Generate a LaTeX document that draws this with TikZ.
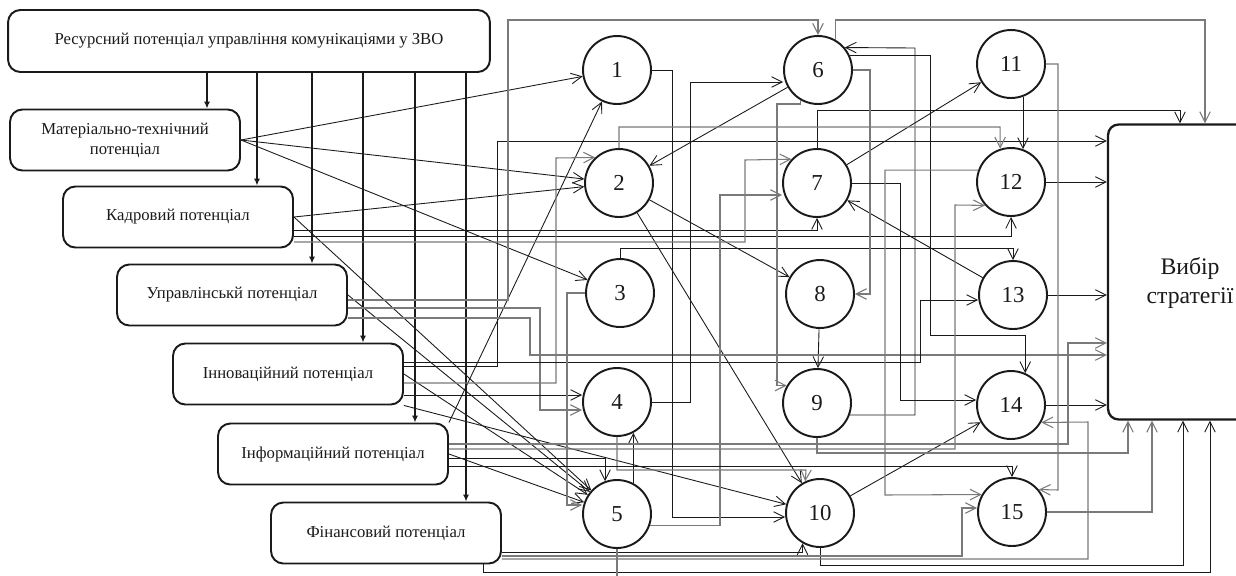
\documentclass[tikz,border=0pt]{standalone}
\usepackage{fontspec}
\setmainfont{Liberation Serif}
\usetikzlibrary{arrows.meta}
\definecolor{ink}{HTML}{1A1A1A}
\definecolor{gl}{HTML}{7A7A7A}
\tikzset{
  pbox/.style={draw=ink,line width=1.1pt,rounded corners=7pt,minimum width=4.6cm,minimum height=1.22cm,align=center,inner sep=2pt,font=\fontsize{9.5}{11.5}\selectfont,text=ink},
  circ/.style={circle,draw=ink,line width=1.1pt,minimum size=1.36cm,inner sep=0pt,font=\fontsize{13}{15}\selectfont,text=ink},
  down/.style={-{Latex[length=4pt,width=3.5pt]},line width=1.1pt,ink},
  lk/.style={-{Straight Barb[length=6pt,width=6pt]},line width=0.5pt,ink},
  lkg/.style={lk,gl,line width=0.6pt}
}

\begin{document}
\begin{tikzpicture}[x=0.02cm,y=-0.02cm]
\useasboundingbox (0,0) rectangle (1236,575);
% ================= potentials =================
\node[pbox,minimum width=9.64cm,minimum height=1.24cm] (res) at (249,41) {Ресурсний потенціал управління комунікаціями у ЗВО};
\node[pbox] (mat) at (125,140) {Матеріально-технічний\\потенціал};
\node[pbox] (kadr) at (178,217) {Кадровий потенціал};
\node[pbox] (upr) at (232,295) {Управлінськй потенціал};
\node[pbox] (inn) at (288,374) {Інноваційний потенціал};
\node[pbox] (inf) at (333,454) {Інформаційний потенціал};
\node[pbox] (fin) at (386,533) {Фінансовий потенціал};
\foreach \n/\x in {mat/207,kadr/257,upr/312,inn/363,inf/415,fin/466}
  \draw[down] (res.south -| \x,0) -- (\n.north -| \x,0);
% ================= factors =================
\node[circ] (c1) at (617,70) {1};
\node[circ] (c2) at (619,183) {2};
\node[circ] (c3) at (620,293) {3};
\node[circ] (c4) at (617,402) {4};
\node[circ] (c5) at (617,514) {5};
\node[circ] (c6) at (818,70) {6};
\node[circ] (c7) at (817,183) {7};
\node[circ] (c8) at (820,294) {8};
\node[circ] (c9) at (817,403) {9};
\node[circ] (c10) at (820,513) {10};
\node[circ] (c11) at (1011,64) {11};
\node[circ] (c12) at (1011,182) {12};
\node[circ] (c13) at (1013,295) {13};
\node[circ] (c14) at (1011,405) {14};
\node[circ] (c15) at (1012,512) {15};
\node[draw=ink,line width=1.3pt,rounded corners=6pt,minimum width=2.84cm,minimum height=5.9cm] (strat) at (1179,272) {};
\node[align=center,font=\fontsize{13.5}{17}\selectfont,text=ink] (stratl) at (1190,283) {Вибір\\стратегії};
% ---- straight links
\draw[lk] (mat.east) -- (c1);
\draw[lk] (mat.east) -- (c2);
\draw[lk] (mat.east) -- (c3);
\draw[lk] (kadr.east) -- (c2);
\draw[lk] (kadr.east) -- (c5);
\draw[lk] (upr.east) -- (c5);
\draw[lk] (inn.east) -- (c5);
\draw[lk] (inn.south east) -- (c10);
\draw[lk] (inf.north east) -- (c1);
\draw[lk] (inf.east) -- (c5);
\draw[lk] (c6) -- (c2);
\draw[lk] (c2) -- (c8);
\draw[lk] (c2) -- (c10);
\draw[lk] (c7) -- (c11);
\draw[lk] (c13) -- (c7);
\draw[lk] (c10) -- (c14);
\draw[lk] (c11.-70) -- (c12.70);
\draw[lk] (c8) -- (c9);
\draw[lk] (c5.62) -- (c4.-62);
% ---- into the choice
\draw[lk] (c12) -- (c12 -| strat.west);
\draw[lk] (c13) -- (c13 -| strat.west);
\draw[lk] (c14) -- (c14 -| strat.west);
\draw[lkg] (c15) -| (strat.south -| 1152,0);
\draw[lkg] (c6.60) |- (1205,20) -- (strat.north -| 1205,0);
\draw[lk] (c7.north) |- (1180,110) -- (strat.north -| 1180,0);
\draw[lkg] (c9.south) |- (1128,453) -- (strat.south -| 1128,0);
\draw[lk] (c10.south) |- (1183,565) -- (strat.south -| 1183,0);
\draw[lk] (fin.south -| 483,0) |- (1210,572) -- (strat.south -| 1210,0);
\draw[lk] (inn.east |- 0,366) -| (497,141) -- (strat.west |- 0,141);
\draw[lkg] (inf.east |- 0,444) -| (1068,343) -- (strat.west |- 0,343);
\draw[lkg] (upr.east |- 0,318) -| (530,355) -- (strat.west |- 0,355);
% ---- orthogonal links
\draw[lk] (c1.east) -- (c1.east -| 672,0) |- (c10.west |- 0,517);
\draw[lkg] (upr.east |- 0,300) -| (508,20) -| (c6.north);
\draw[lkg] (upr.east |- 0,308) -| (540,410) -- (c4.west |- 0,410);
\draw[lk] (kadr.east |- 0,230) -| (c7.south);
\draw[lk] (kadr.east |- 0,236) -| (c12.south);
\draw[lkg] (kadr.east |- 0,242) -| (745,160) -- (c7.137);
\draw[lkg] (inn.east |- 0,383) -| (556,158) -- (c2.133);
\draw[lk] (inn.east |- 0,395) -- (c4.west |- 0,395);
\draw[lk] (inn.east |- 0,362) -| (920,300) -- (c13.west |- 0,300);
\draw[lkg] (c3.west) -| (567,505) -- (c5.west |- 0,505);
\draw[lk] (c3.north) |- (c13.north |- 0,248) -- (c13.north);
\draw[lkg] (c6.east) -| (870,294) -- (c8.east);
\draw[lkg] (c11.east) -| (1058,490) -- (c15.40);
\draw[lk] (c6.25) -| (930,335) -| (c14.66);
\draw[lkg] (c6.240) |- (777,104) |- (c9.150);
\draw[lk] (c9.-20) -| (915,48) -- (c6.40);
\draw[lk] (c7.east) -| (900,400) -- (c14.west |- 0,400);
\draw[lkg] (c12.160) -| (885,495) -- (c15.150);
\draw[lkg] (c2.north) |- (1000,127) -- (c12.108);
\draw[lkg] (c5.-20) -| (720,195) -- (c7.west |- 0,195);
\draw[lk] (c4.east) -| (690,82) -- (c6.west |- 0,82);
\draw[lkg] (c4.south) |- (806,470) -- (c10.115);
\draw[lkg] (inf.east |- 0,449) -| (955,205) -- (c12.222);
\draw[lk] (inf.east |- 0,458) -| (c5.110);
\draw[lk] (inf.east |- 0,466) -| (c15.north);
\draw[lk] (fin.east |- 0,552) -| (c10.240);
\draw[lkg] (fin.east |- 0,556) -| (962,508) -- (c15.west |- 0,508);
\draw[lkg] (fin.east |- 0,559) -| (1088,422) -- (c14.-30);
\draw[lkg,-] (c5.south) -- (c5.south |- 0,580);
\end{tikzpicture}
\end{document}
